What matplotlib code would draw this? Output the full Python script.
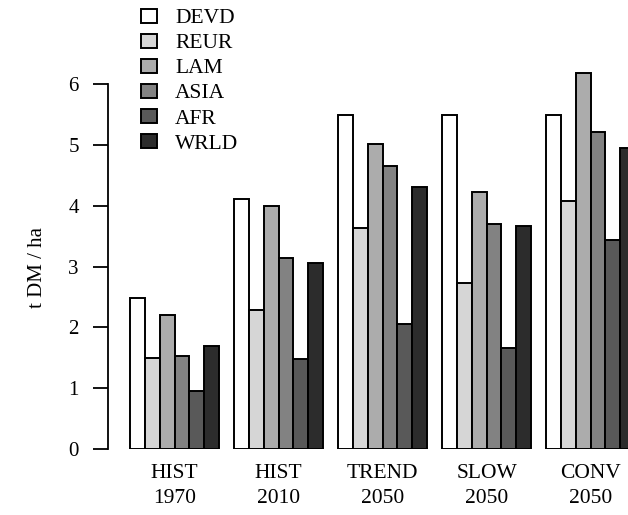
import matplotlib
matplotlib.use("Agg")
import matplotlib.pyplot as plt
from matplotlib.patches import Patch
import numpy as np

plt.rcParams['font.family'] = ['Liberation Serif', 'DejaVu Serif']

# data
regions = ["DEVD", "REUR", "LAM", "ASIA", "AFR", "WRLD"]
scenarios = ["HIST", "HIST", "TREND", "SLOW", "CONV"]
years = ["1970", "2010", "2050", "2050", "2050"]
devd = [2.48, 4.11, 5.49, 5.49, 5.49]
reur = [1.49, 2.28, 3.64, 2.73, 4.07]
lam = [2.21, 3.99, 5.02, 4.22, 6.18]
asia = [1.53, 3.14, 4.65, 3.70, 5.21]
afr = [0.96, 1.48, 2.06, 1.66, 3.44]
wrld = [1.70, 3.06, 4.30, 3.66, 4.94]
colors = ["#ffffff", "#d6d6d6", "#acacac", "#828282", "#595959", "#2c2c2c"]

series = [devd, reur, lam, asia, afr, wrld]

W, H = 628, 515
fig = plt.figure(figsize=(W / 100, H / 100), dpi=100)
ax = fig.add_axes([108 / W, (H - 449) / H, 1 - 108 / W, 449 / H])

# R barplot style: beside=TRUE, space=c(0,1)
n = len(regions)
for k, vals in enumerate(series):
    x = 1 + np.arange(len(vals)) * (n + 1) + k
    ax.bar(x, vals, width=1, align="edge", color=colors[k],
           edgecolor="black", linewidth=1.4, clip_on=True)

unit = 14.86
ax.set_xlim(-7.1 / unit, -7.1 / unit + 520 / unit)
ax.set_ylim(0, 449 / 60.83)

for s in ["top", "right", "bottom"]:
    ax.spines[s].set_visible(False)
ax.spines["left"].set_bounds(0, 6)
ax.spines["left"].set_linewidth(1.3)
ax.set_xticks([])
ax.set_yticks(range(7))
ax.tick_params(axis="y", length=11, width=1.3, pad=10, labelsize=15)

centers = 1 + np.arange(len(scenarios)) * (n + 1) + n / 2
tr = ax.get_xaxis_transform()
for c, s, y in zip(centers, scenarios, years):
    ax.text(c, (449 - 477.7) / 449, s, transform=tr, ha="center",
            va="baseline", fontsize=15.5)
    ax.text(c, (449 - 503.3) / 449, y, transform=tr, ha="center",
            va="baseline", fontsize=15.5)

fig.text(37 / W, 1 - 267 / H, "t DM / ha", rotation=90, ha="center",
         va="center", fontsize=15)

handles = [Patch(facecolor=c, edgecolor="black", linewidth=1.4) for c in colors]
fig.legend(handles, regions, loc="upper left",
           bbox_to_anchor=(141 / W, 1 - 9 / H), frameon=False,
           fontsize=15.5, borderpad=0, borderaxespad=0,
           handlelength=0.74, handleheight=0.6, handletextpad=0.84,
           labelspacing=0.26)

fig.savefig("out.png", dpi=100)
